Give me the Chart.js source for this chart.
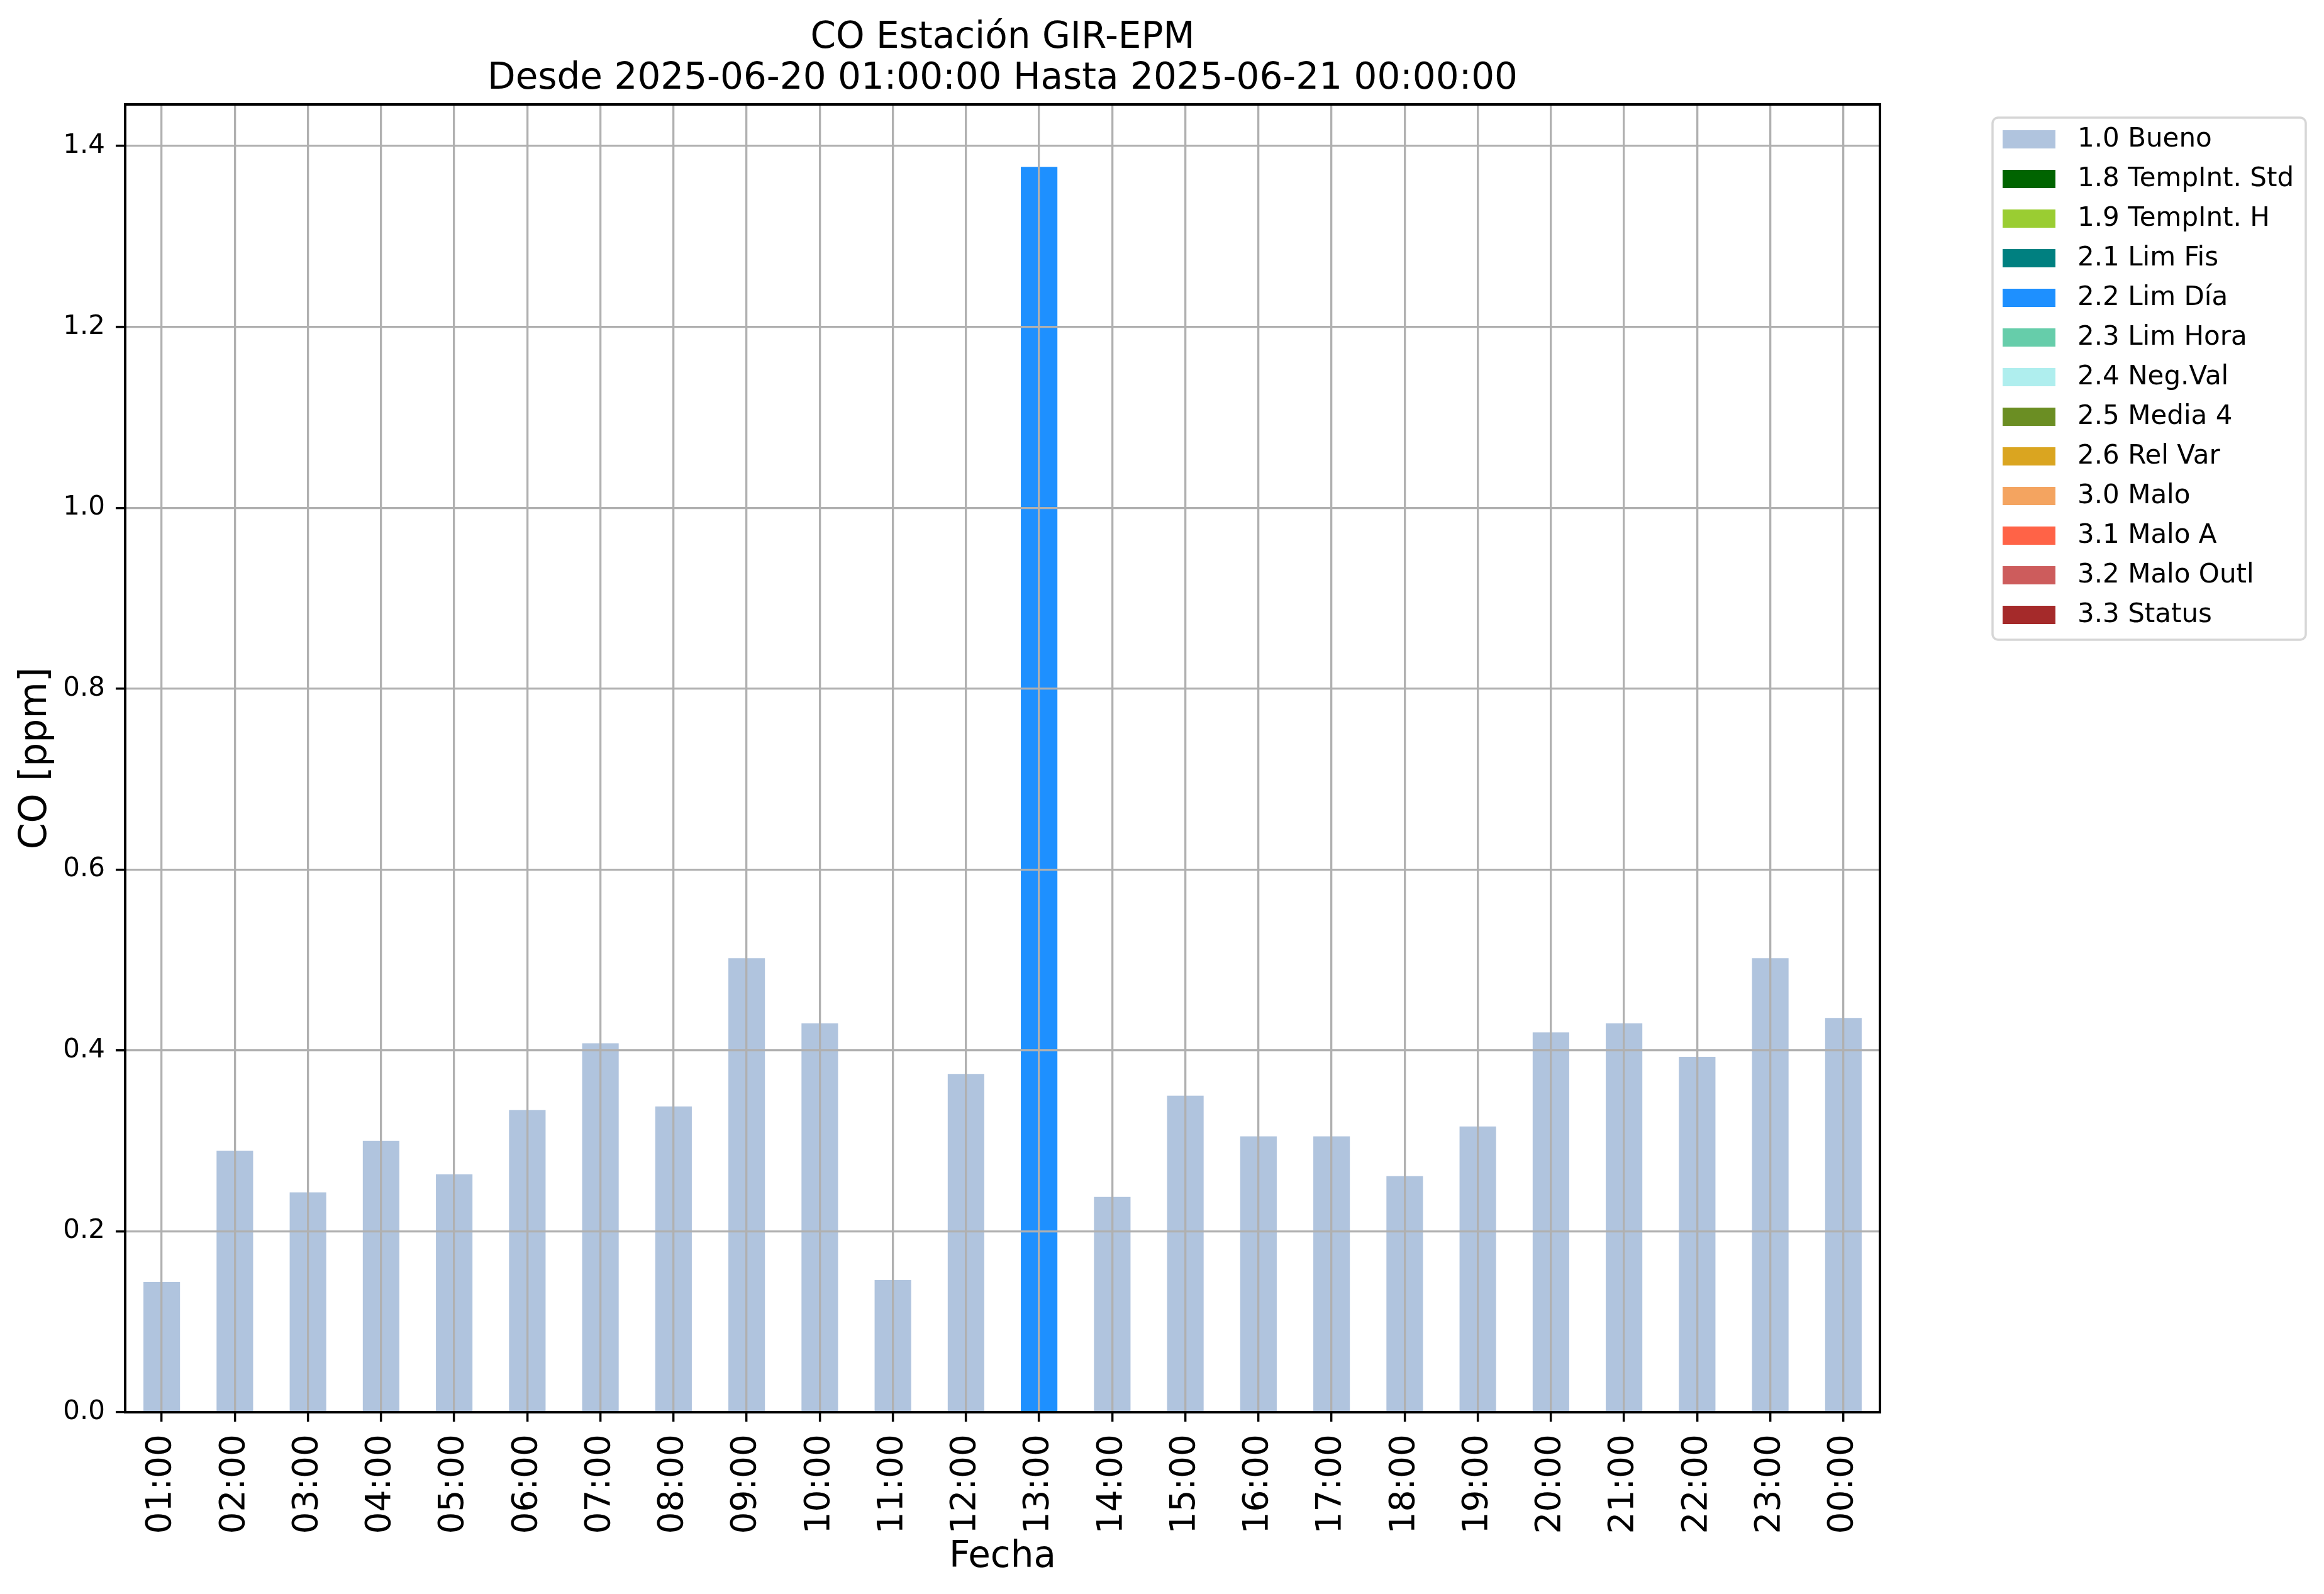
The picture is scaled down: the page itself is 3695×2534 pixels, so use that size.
<!DOCTYPE html>
<html>
<head>
<meta charset="utf-8">
<script src="https://cdn.jsdelivr.net/npm/chart.js@4/dist/chart.umd.min.js"></script>
<style>
  body { margin: 0; background: #fff; }
  #wrap { width: 3695px; height: 2534px; }
</style>
</head>
<body>
<div id="wrap"><canvas id="chart" width="3695" height="2534"></canvas></div>
<script>
// hourly CO, 2025-06-20 01:00 .. 2025-06-21 00:00
const hours = ['01:00', '02:00', '03:00', '04:00', '05:00', '06:00', '07:00', '08:00',
  '09:00', '10:00', '11:00', '12:00', '13:00', '14:00', '15:00', '16:00',
  '17:00', '18:00', '19:00', '20:00', '21:00', '22:00', '23:00', '00:00'];

const bueno = [0.144, 0.289, 0.243, 0.300, 0.263, 0.334, 0.408, 0.338,
  0.502, 0.430, 0.146, 0.374, null, 0.238, 0.350, 0.305,
  0.305, 0.261, 0.316, 0.420, 0.430, 0.393, 0.502, 0.436];

const limDia = [null, null, null, null, null, null, null, null,
  null, null, null, null, 1.377, null, null, null,
  null, null, null, null, null, null, null, null];

const flagNames = ['1.0 Bueno', '1.8 TempInt. Std', '1.9 TempInt. H', '2.1 Lim Fis', '2.2 Lim Día',
  '2.3 Lim Hora', '2.4 Neg.Val', '2.5 Media 4', '2.6 Rel Var', '3.0 Malo', '3.1 Malo A',
  '3.2 Malo Outl', '3.3 Status'];
const flagColors = ['#B0C4DE', '#006400', '#9ACD32', '#008080', '#1E90FF', '#66CDAA', '#AFEEEE',
  '#6B8E23', '#DAA520', '#F4A460', '#FF6347', '#CD5C5C', '#A52A2A'];

const yTicks = [0, 0.2, 0.4, 0.6, 0.8, 1.0, 1.2, 1.4];
const yMax = 1.446;

const seriesFor = { '1.0 Bueno': bueno, '2.2 Lim Día': limDia };

const FONT = 'DejaVu Sans';
Chart.defaults.font.family = FONT;
Chart.defaults.color = '#000';

const datasets = flagNames.map((name, i) => ({
  label: name,
  data: seriesFor[name] || [],
  backgroundColor: flagColors[i],
  borderWidth: 0,
  barPercentage: 0.5,
  categoryPercentage: 1.0,
}));

// title above the plot + box around the axes
const frame = {
  id: 'frame',
  afterDraw(chart) {
    const { ctx, chartArea: a } = chart;
    ctx.save();
    ctx.strokeStyle = '#000';
    ctx.lineWidth = 4;
    ctx.strokeRect(a.left, a.top, a.right - a.left, a.bottom - a.top);

    ctx.fillStyle = '#000';
    ctx.font = '58px "' + FONT + '"';
    ctx.textAlign = 'center';
    ctx.textBaseline = 'alphabetic';
    const cx = (a.left + a.right) / 2;
    ctx.fillText('CO Estación GIR-EPM', cx, 76);
    ctx.fillText('Desde 2025-06-20 01:00:00 Hasta 2025-06-21 00:00:00', cx, 141);
    ctx.restore();
  }
};

// matplotlib style legend outside on the right
const sideLegend = {
  id: 'sideLegend',
  afterDraw(chart) {
    const { ctx } = chart;
    const x0 = 3168, y0 = 187, w = 498, h = 830;
    ctx.save();
    ctx.beginPath();
    ctx.roundRect(x0, y0, w, h, 9);
    ctx.fillStyle = 'rgba(255,255,255,0.8)';
    ctx.fill();
    ctx.lineWidth = 3.5;
    ctx.strokeStyle = '#d6d6d6';
    ctx.stroke();

    ctx.font = '42px "' + FONT + '"';
    ctx.textAlign = 'left';
    ctx.textBaseline = 'middle';
    chart.data.datasets.forEach((ds, i) => {
      const top = 207 + i * 63;
      ctx.fillStyle = ds.backgroundColor;
      ctx.fillRect(3184, top, 84, 29);
      ctx.fillStyle = '#000';
      ctx.fillText(ds.label, 3303, top + 15);
    });
    ctx.restore();
  }
};

new Chart(document.getElementById('chart'), {
  type: 'bar',
  data: { labels: hours, datasets },
  options: {
    responsive: false,
    animation: false,
    layout: { padding: { top: 166, right: 706, left: 0, bottom: 0 } },
    plugins: {
      legend: { display: false },
      tooltip: { enabled: false },
    },
    scales: {
      x: {
        stacked: true,
        afterFit: (s) => { s.height = 289; },
        grid: {
          offset: false,
          color: '#b0b0b0',
          lineWidth: 3.3,
          tickColor: '#000',
          tickWidth: 3.5,
          tickLength: 15,
          z: 1,
        },
        border: { display: true, color: '#000', width: 4, z: 2 },
        ticks: {
          autoSkip: false,
          minRotation: 90,
          maxRotation: 90,
          padding: 20,
          font: { size: 55 },
        },
        title: {
          display: true,
          text: 'Fecha',
          font: { size: 58 },
          padding: { top: 0, bottom: 23 },
        },
      },
      y: {
        stacked: true,
        min: 0,
        max: yMax,
        afterFit: (s) => { s.width = 199; },
        afterBuildTicks: (s) => { s.ticks = yTicks.map(v => ({ value: v })); },
        grid: {
          color: '#b0b0b0',
          lineWidth: 3.3,
          tickColor: '#000',
          tickWidth: 3.5,
          tickLength: 15,
          z: 1,
        },
        border: { display: true, color: '#000', width: 4, z: 2 },
        ticks: {
          padding: 17,
          font: { size: 42 },
          callback: (v) => Number(v).toFixed(1),
        },
        title: {
          display: true,
          text: 'CO [ppm]',
          font: { size: 60 },
          padding: { top: 21, bottom: 0 },
        },
      },
    },
  },
  plugins: [frame, sideLegend],
});
</script>
</body>
</html>
